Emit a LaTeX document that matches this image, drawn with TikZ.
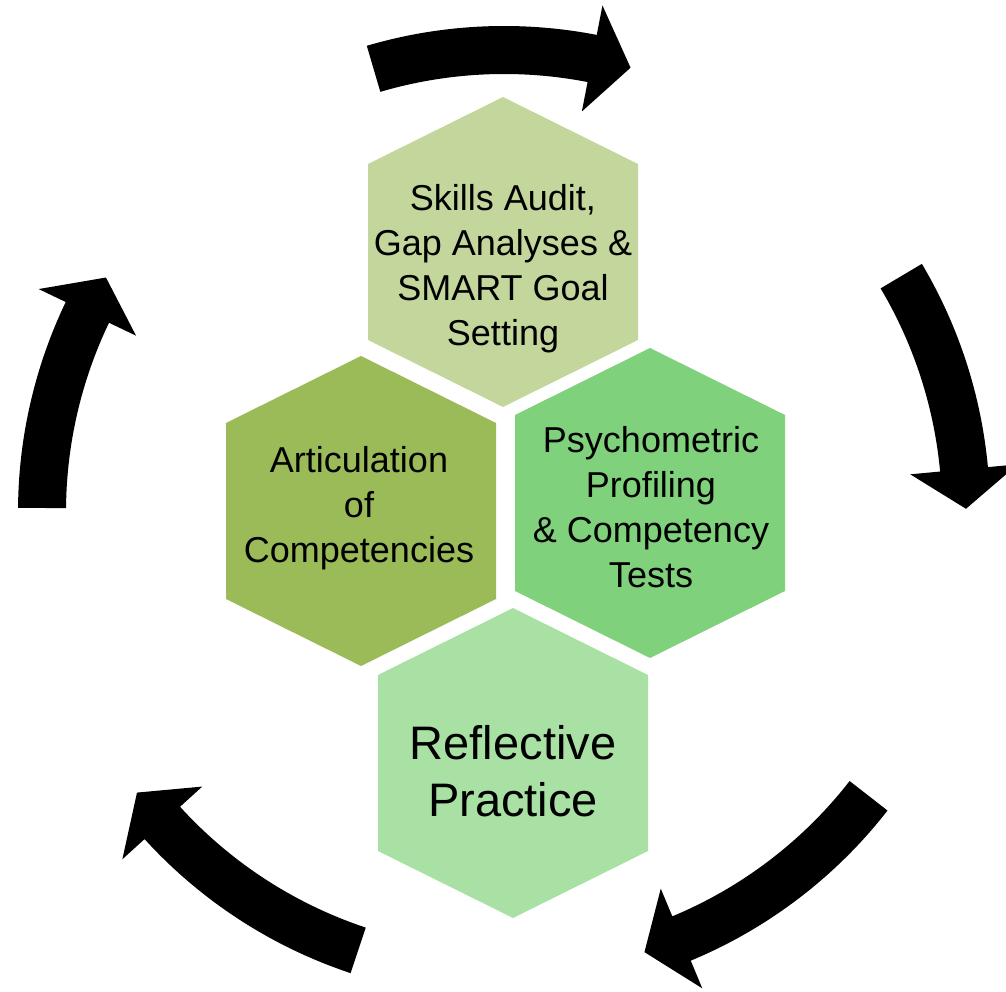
\documentclass[tikz,border=0pt]{standalone}
\usepackage{fontspec}
\setmainfont{Liberation Sans}
\definecolor{auditgreen}{HTML}{C3D69B}
\definecolor{articgreen}{HTML}{9BBB59}
\definecolor{psychgreen}{HTML}{80D17B}
\definecolor{reflgreen}{HTML}{A9E0A3}
\tikzset{
	hexlabel/.style={align=center, inner sep=0pt, font=\fontsize{18}{22.5}\selectfont},
	biglabel/.style={hexlabel, font=\fontsize{23.5}{28.5}\selectfont},
}
% hexagon with a point on top, #1 = centre, #2 = colour
\newcommand{\hexcell}[2]{\fill[#2,shift={(#1)}] (0,155) -- (135,88) -- (135,-88) -- (0,-155) -- (-135,-88) -- (-135,88) -- cycle;}
\begin{document}
\begin{tikzpicture}[x=0.5pt,y=0.5pt,line join=miter]
	\def\rmid{462} \def\rin{438} \def\rout{486} % body of the arrows
	\def\rbin{408} \def\rbout{516} % barbs
	\useasboundingbox (0,0) rectangle (1006,991);
	\coordinate (hub) at (504,479);
	\coordinate (c1) at (503,739);
	\coordinate (c2) at (361,480);
	\coordinate (c3) at (650,488);
	\coordinate (c4) at (513,228);
	\hexcell{c1}{auditgreen}
	\hexcell{c2}{articgreen}
	\hexcell{c3}{psychgreen}
	\hexcell{c4}{reflgreen}
	\node[hexlabel] (audit) at (503,722) {Skills Audit,\\Gap Analyses \&\\SMART Goal\\Setting};
	\node[hexlabel] (artic) at (359,483) {Articulation\\of\\Competencies};
	\node[hexlabel] (psych) at (651,484) {Psychometric\\Profiling\\\& Competency\\Tests};
	\node[biglabel] (refl) at (513,220) {Reflective\\Practice};
	% cycle arrows, tail angle / head angle
	\foreach \t/\h in {106.4/79, 30.7/5.3, -37.9/-67.4, 251.6/222.3, 179.5/154.4}
	\fill[shift={(hub)}] (\t:\rout) arc[start angle=\t, end angle=\h, radius=\rout] -- (\h:\rbout) -- (\h-4.9:\rmid) -- (\h:\rbin) -- (\h:\rin) arc[start angle=\h, end angle=\t, radius=\rin] -- cycle;
\end{tikzpicture}
\end{document}
